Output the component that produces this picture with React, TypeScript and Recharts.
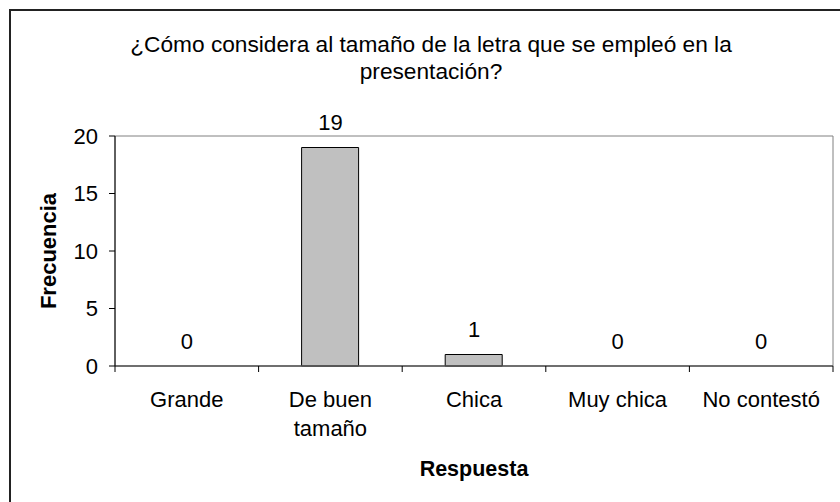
import React from 'react';
import { ComposedChart, Bar, Line, XAxis, YAxis, LabelList, ReferenceArea } from 'recharts';

const categories = ['Grande', 'De buen tamaño', 'Chica', 'Muy chica', 'No contestó'];
const frecuencias = [0, 19, 1, 0, 0];
const yTicks = [0, 5, 10, 15, 20];
const titleLines = ['¿Cómo considera al tamaño de la letra que se empleó en la', 'presentación?'];
const xTitle = 'Respuesta';
const yTitle = 'Frecuencia';

const data = categories.map((name, i) => ({ name, value: frecuencias[i] }));

const FONT = '"Liberation Sans", Arial, Helvetica, sans-serif';
const TICK_FONT_SIZE = 22;

let measureCtx: CanvasRenderingContext2D | null = null;
function measure(s: string): number {
  if (!measureCtx && typeof document !== 'undefined') {
    measureCtx = document.createElement('canvas').getContext('2d');
  }
  if (!measureCtx) return s.length * TICK_FONT_SIZE * 0.55;
  measureCtx.font = `${TICK_FONT_SIZE}px ${FONT}`;
  return measureCtx.measureText(s).width;
}

function wrapWords(s: string, maxWidth: number): string[] {
  const words = s.split(' ');
  const lines: string[] = [];
  let cur = '';
  for (const w of words) {
    const cand = cur ? cur + ' ' + w : w;
    if (cur && measure(cand) > maxWidth) {
      lines.push(cur);
      cur = w;
    } else {
      cur = cand;
    }
  }
  if (cur) lines.push(cur);
  return lines;
}

const CatTick = (props: any) => {
  const { x, y, payload, index, visibleTicksCount } = props;
  const half = payload && payload.offset ? payload.offset : 71.8;
  const axisY = y - 8;
  const isLast = index === (visibleTicksCount ?? 5) - 1;
  const lines = wrapWords(String(payload.value), 125);
  return (
    <g>
      <line x1={x - half} x2={x - half} y1={axisY} y2={axisY + 6} stroke="#000" strokeWidth={1} />
      {isLast && <line x1={x + half} x2={x + half} y1={axisY} y2={axisY + 6} stroke="#000" strokeWidth={1} />}
      <text x={x} y={y + 33} textAnchor="middle" fontSize={TICK_FONT_SIZE} fontFamily={FONT} fill="#000">
        {lines.map((ln, i) => (
          <tspan key={i} x={x} dy={i === 0 ? 0 : 29}>
            {ln}
          </tspan>
        ))}
      </text>
    </g>
  );
};

export default function App() {
  return (
    <div style={{ position: 'absolute', left: 0, top: 0, width: 840, height: 502, overflow: 'hidden', background: '#fff' }}>
      <div
        style={{
          position: 'absolute',
          left: 9,
          top: 9,
          width: 860,
          height: 560,
          border: '2px solid #222',
          boxSizing: 'border-box',
        }}
      />
      <svg width={840} height={130} style={{ position: 'absolute', left: 0, top: 0 }}>
        <text x={431} y={52} textAnchor="middle" fontSize={22.7} fontFamily={FONT} fill="#000">
          {titleLines[0]}
        </text>
        <text x={431} y={79} textAnchor="middle" fontSize={22.7} fontFamily={FONT} fill="#000">
          {titleLines[1]}
        </text>
      </svg>
      <div style={{ position: 'absolute', left: 0, top: 0 }}>
        <ComposedChart
          width={840}
          height={502}
          data={data}
          margin={{ top: 136, right: 7, bottom: 135, left: 15 }}
          barCategoryGap={0}
        >
          <ReferenceArea yAxisId="y" xAxisId="cat" y1={0} y2={20} fill="none" stroke="#808080" strokeWidth={1} />
          <XAxis
            xAxisId="cat"
            dataKey="name"
            type="category"
            interval={0}
            height={1}
            axisLine={{ stroke: '#555', strokeWidth: 1.5 }}
            tickLine={false}
            tick={<CatTick />}
          />
          <YAxis
            yAxisId="y"
            type="number"
            domain={[0, 20]}
            ticks={yTicks}
            width={100}
            tickSize={6}
            tickMargin={11}
            tickLine={{ stroke: '#000' }}
            axisLine={{ stroke: '#000' }}
            tick={{ fontSize: 22, fontFamily: FONT, fill: '#000' }}
            label={(p: any) => {
              const vb = p.viewBox || {};
              const cy = (vb.y ?? 136) + (vb.height ?? 230) / 2;
              return (
                <text
                  x={48}
                  y={cy}
                  transform={`rotate(-90, 48, ${cy})`}
                  textAnchor="middle"
                  dominantBaseline="central"
                  fontSize={22}
                  fontWeight="bold"
                  fontFamily={FONT}
                  fill="#000"
                >
                  {yTitle}
                </text>
              );
            }}
          />
          <Bar
            xAxisId="cat"
            yAxisId="y"
            dataKey="value"
            barSize={57}
            fill="#c0c0c0"
            stroke="#000"
            strokeWidth={1}
            isAnimationActive={false}
          />
          <Line
            xAxisId="cat"
            yAxisId="y"
            dataKey="value"
            stroke="none"
            dot={false}
            activeDot={false}
            legendType="none"
            isAnimationActive={false}
          >
            <LabelList dataKey="value" position="top" offset={17.5} fill="#000" fontSize={22} fontFamily={FONT} />
          </Line>
        </ComposedChart>
      </div>
      <svg width={840} height={502} style={{ position: 'absolute', left: 0, top: 0, pointerEvents: 'none' }}>
        <text x={474} y={476} textAnchor="middle" fontSize={21.5} fontWeight="bold" fontFamily={FONT} fill="#000">
          {xTitle}
        </text>
      </svg>
    </div>
  );
}
